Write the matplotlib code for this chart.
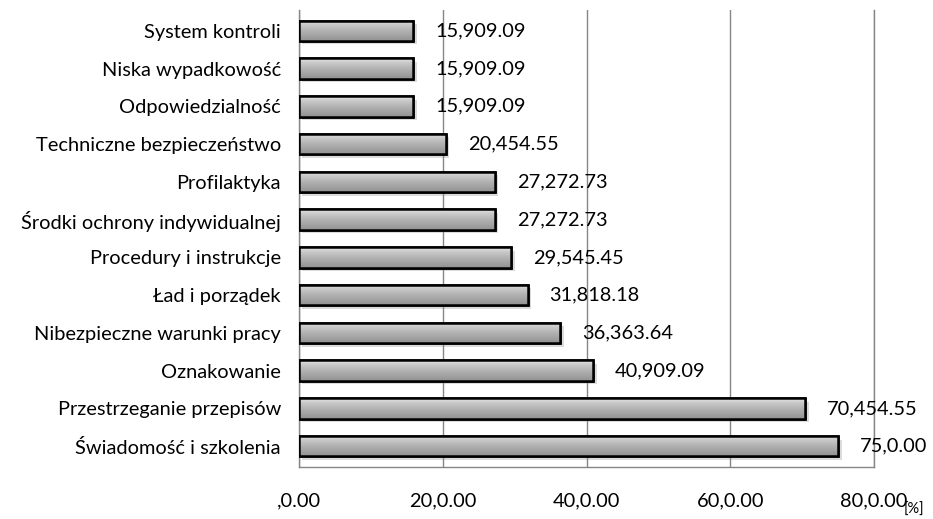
import numpy as np
import matplotlib
matplotlib.use("Agg")
import matplotlib.pyplot as plt
import matplotlib.patheffects as pe
from matplotlib.colors import LinearSegmentedColormap

categories = [
    "Świadomość i szkolenia",
    "Przestrzeganie przepisów",
    "Oznakowanie",
    "Nibezpieczne warunki pracy",
    "Ład i porządek",
    "Procedury i instrukcje",
    "Środki ochrony indywidualnej",
    "Profilaktyka",
    "Techniczne bezpieczeństwo",
    "Odpowiedzialność",
    "Niska wypadkowość",
    "System kontroli",
]
values = [75.0, 70.4545, 40.9091, 36.3636, 31.8182, 29.5455,
          27.2727, 27.2727, 20.4545, 15.9091, 15.9091, 15.9091]
value_labels = ["75,0.00", "70,454.55", "40,909.09", "36,363.64", "31,818.18",
                "29,545.45", "27,272.73", "27,272.73", "20,454.55",
                "15,909.09", "15,909.09", "15,909.09"]
xticks = [0, 20, 40, 60, 80]
xtick_labels = [",0.00", "20,0.00", "40,0.00", "60,0.00", "80,0.00"]

plt.rcParams['font.family'] = ['Lato', 'DejaVu Sans']
FS = 14.4

W, H = 933, 519
fig = plt.figure(figsize=(W / 100, H / 100), dpi=100)
ax = fig.add_axes([299 / W, 1 - 467 / H, (874 - 299) / W, (467 - 10) / H])

y = np.arange(len(categories))
bars = ax.barh(y, values, height=0.54, facecolor='#b0b0b0', edgecolor='black',
               linewidth=1.8, zorder=3,
               path_effects=[pe.SimplePatchShadow(offset=(2.5, -2.5), shadow_rgbFace='#888888', alpha=0.3),
                             pe.Normal()])

cmap = LinearSegmentedColormap.from_list(
    "g", [(0, '#939393'), (0.45, '#afafaf'), (0.8, '#cbcbcb'), (1.0, '#e8e8e8')])
grad = np.linspace(0, 1, 64).reshape(-1, 1)
for b in bars:
    x0, y0 = b.get_x(), b.get_y()
    w, h = b.get_width(), b.get_height()
    im = ax.imshow(grad, extent=[x0, x0 + w, y0 + h, y0], origin='upper',
                   cmap=cmap, aspect='auto', zorder=3.5, interpolation='bilinear')
    im.set_clip_path(b)
    ax.add_patch(plt.Rectangle((x0, y0), w, h, fill=False, edgecolor='black',
                               linewidth=1.8, zorder=4))

for b, lab in zip(bars, value_labels):
    ax.text(b.get_width() + 3.0, b.get_y() + b.get_height() / 2, lab,
            va='center', ha='left', fontsize=FS, color='black', zorder=5)

ax.set_xlim(0, 80)
ax.set_ylim(-0.55, len(categories) - 0.45)
ax.set_yticks(y)
ax.set_yticklabels(categories, fontsize=FS)
ax.set_xticks(xticks)
ax.set_xticklabels(xtick_labels, fontsize=FS)
ax.tick_params(axis='both', length=0)
ax.tick_params(axis='y', pad=13)
ax.tick_params(axis='x', pad=18)
ax.grid(axis='x', color='#868686', linewidth=1.0, zorder=0)
ax.set_axisbelow(True)
for s in ['left', 'bottom', 'right']:
    ax.spines[s].set_color('#868686')
    ax.spines[s].set_linewidth(1.0)
ax.spines['top'].set_visible(False)

fig.text(914 / W, 1 - 510 / H, "[%]", fontsize=10.5, ha='center', va='center')

fig.savefig("out.png", dpi=100)
